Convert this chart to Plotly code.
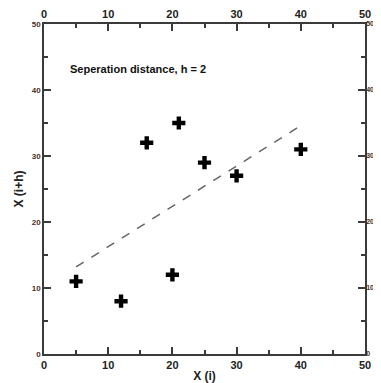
import plotly.graph_objects as go

x_i = [5, 12, 16, 20, 21, 25, 30, 40]
x_ih = [11, 8, 32, 12, 35, 29, 27, 31]
trend_x = [5, 40]
trend_y = [13.2, 34.6]
tick_vals = [0, 10, 20, 30, 40, 50]
title_text = "Seperation distance, h = 2"

FONT = "Liberation Sans, Arial, sans-serif"
AXC = "#3a3a3a"

fig = go.Figure()
fig.add_trace(go.Scatter(x=trend_x, y=trend_y, mode="lines",
                         line=dict(color="#666666", width=1.5, dash="dash"),
                         showlegend=False, hoverinfo="skip"))
fig.add_trace(go.Scatter(x=x_i, y=x_ih, mode="markers",
                         marker=dict(symbol="cross", size=11, color="black",
                                     line=dict(width=0)),
                         showlegend=False))
fig.add_trace(go.Scatter(x=[0], y=[0], xaxis="x2", yaxis="y2", mode="markers",
                         marker=dict(opacity=0), showlegend=False, hoverinfo="skip"))

common_x = dict(range=[0, 50], tickvals=tick_vals, ticks="inside", ticklen=7,
                tickwidth=1.5, tickcolor=AXC, showline=True, linecolor=AXC,
                linewidth=1.5, showgrid=False, zeroline=False, automargin=False,
                tickfont=dict(family=FONT, size=11, color="#222", weight="bold"),
                minor=dict(dtick=5, ticks="inside", ticklen=4, tickwidth=1.5,
                           tickcolor=AXC, showgrid=False))
common_y = dict(range=[0, 50], tickvals=tick_vals, ticks="inside", ticklen=7,
                tickwidth=1.5, tickcolor=AXC, showline=True, linecolor=AXC,
                linewidth=1.5, showgrid=False, zeroline=False, automargin=False,
                minor=dict(dtick=5, ticks="inside", ticklen=4, tickwidth=1.5,
                           tickcolor=AXC, showgrid=False))

# page body has an 8px margin, so the figure is sized to fill the rest
fig.update_layout(
    width=373, height=375,
    margin=dict(l=36, r=16, t=16, b=29),
    paper_bgcolor="white", plot_bgcolor="white",
    xaxis=dict(**common_x, title=dict(text="X (i)", standoff=2,
               font=dict(family=FONT, size=12, color="#222", weight="bold"))),
    yaxis=dict(**common_y,
               tickfont=dict(family=FONT, size=8, color="#4a3020", weight="bold"),
               title=dict(text="X (i+h)", standoff=6,
               font=dict(family=FONT, size=12, color="#222", weight="bold"))),
    xaxis2=dict(**common_x, overlaying="x", side="top"),
    yaxis2=dict(**common_y, overlaying="y", side="right", ticklabelstandoff=-2,
                tickfont=dict(family=FONT, size=7, color="#4a3020", weight="bold")),
    annotations=[dict(x=3.7, y=43.2, xref="x", yref="y", text=title_text,
                      showarrow=False, xanchor="left", yanchor="middle",
                      font=dict(family=FONT, size=11, color="#111", weight="bold"))],
)

fig.write_html("out.html")
